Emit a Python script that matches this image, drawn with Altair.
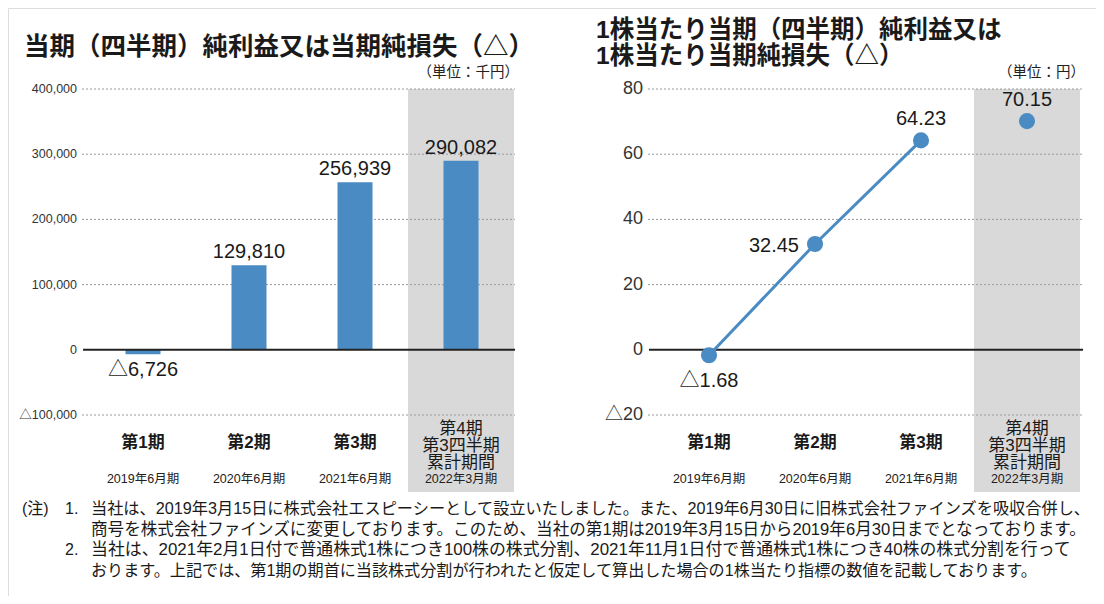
import altair as alt
import pandas as pd

# ---------------- data ----------------
periods = ["第1期", "第2期", "第3期", "第4期"]
period_labels = ["第1期", "第2期", "第3期", "第4期\n第3四半期\n累計期間"]
fiscal_years = ["2019年6月期", "2020年6月期", "2021年6月期", "2022年3月期"]
highlight_period = ["第4期"]

net_income = [-6726, 129810, 256939, 290082]
net_income_text = ["△6,726", "129,810", "256,939", "290,082"]

eps = [-1.68, 32.45, 64.23, 70.15]
eps_text = ["△1.68", "32.45", "64.23", "70.15"]

left_ticks = [400000, 300000, 200000, 100000, 0, -100000]
left_tick_text = ["400,000", "300,000", "200,000", "100,000", "0", "△100,000"]
right_ticks = [80, 60, 40, 20, 0, -20]
right_tick_text = ["80", "60", "40", "20", "0", "△20"]

title_left = "当期（四半期）純利益又は当期純損失（△）"
title_right = "1株当たり当期（四半期）純利益又は\n1株当たり当期純損失（△）"
unit_left = "（単位：千円）"
unit_right = "（単位：円）"

note_head = "(注)"
note_nums = ["1.", "2."]
note_lines = [
    "当社は、2019年3月15日に株式会社エスピーシーとして設立いたしました。また、2019年6月30日に旧株式会社ファインズを吸収合併し、",
    "商号を株式会社ファインズに変更しております。このため、当社の第1期は2019年3月15日から2019年6月30日までとなっております。",
    "当社は、2021年2月1日付で普通株式1株につき100株の株式分割、2021年11月1日付で普通株式1株につき40株の株式分割を行って",
    "おります。上記では、第1期の期首に当該株式分割が行われたと仮定して算出した場合の1株当たり指標の数値を記載しております。",
]

# ---------------- style ----------------
OX, OY = 8, 8
def px(x):
    return x - OX
def py(y):
    return y - OY

FONT = "Liberation Sans, Noto Sans CJK JP"
BLUE = "#4a8bc3"
GRAY = "#d9d9d9"
GRID = "#9a9a9a"
INK = "#1a1a1a"

df_l = pd.DataFrame({"period": periods, "label": period_labels, "fy": fiscal_years,
                     "value": net_income, "text": net_income_text})
df_r = pd.DataFrame({"period": periods, "label": period_labels, "fy": fiscal_years,
                     "value": eps, "text": eps_text})
df_lt = pd.DataFrame({"v": left_ticks, "t": left_tick_text})
df_rt = pd.DataFrame({"v": right_ticks, "t": right_tick_text})


def panel(df, dft, x0, x1, band0, band1, ydomain, tick_size, tick_right, kind):
    xs = alt.Scale(domain=periods, range=[px(band0), px(band1)], paddingInner=0, paddingOuter=0)
    ys = alt.Scale(domain=ydomain, range=[py(415), py(89)], nice=False, zero=False)
    X = alt.X("period:N", scale=xs, axis=None)
    Y = alt.Y("value:Q", scale=ys, axis=None)
    YT = alt.Y("v:Q", scale=ys, axis=None)
    is4 = alt.FieldOneOfPredicate(field="period", oneOf=highlight_period)
    not4 = alt.LogicalNotPredicate(**{"not": is4})

    base = alt.Chart(df)
    band = base.transform_filter(is4).mark_rect(color=GRAY).encode(
        x=X, y=alt.value(py(89)), y2=alt.value(py(492)))
    ticks = alt.Chart(dft)
    grid = ticks.transform_filter(alt.datum.v != 0).mark_rule(
        color=GRID, strokeDash=[2, 2], strokeWidth=1).encode(
        y=YT, x=alt.value(px(x0)), x2=alt.value(px(x1)))
    zero = ticks.transform_filter(alt.datum.v == 0).mark_rule(
        color="#222222", strokeWidth=2).encode(
        y=YT, x=alt.value(px(x0 + 1)), x2=alt.value(px(x1)))
    tlab = ticks.mark_text(align="right", baseline="middle", font=FONT,
                           fontSize=tick_size, color="#333333").encode(
        y=YT, x=alt.value(px(tick_right)), text="t:N")
    cat = base.transform_filter(not4).mark_text(
        font=FONT, fontSize=17, fontWeight="bold", baseline="middle", color=INK).encode(
        x=X, y=alt.value(py(443)), text="label:N")
    cat4 = base.transform_filter(is4).mark_text(
        font=FONT, fontSize=17, baseline="middle", lineBreak="\n", lineHeight=17, color=INK).encode(
        x=X, y=alt.value(py(429)), text="label:N")
    fy = base.mark_text(font=FONT, fontSize=12.5, baseline="middle", color="#222222").encode(
        x=X, y=alt.value(py(479)), text="fy:N")

    layers = [band, grid]
    if kind == "bar":
        bars = base.mark_bar(size=35, color=BLUE).encode(x=X, y=Y, y2=alt.datum(0))
        pos = base.transform_filter(alt.datum.value > 0).mark_text(
            font=FONT, fontSize=20, baseline="alphabetic", dy=-7, color=INK).encode(
            x=X, y=Y, text="text:N")
        neg = base.transform_filter(alt.datum.value < 0).mark_text(
            font=FONT, fontSize=20, baseline="alphabetic", dy=22, color=INK).encode(
            x=X, y=Y, text="text:N")
        layers += [bars, zero, pos, neg]
    else:
        line = base.transform_filter(not4).mark_line(color=BLUE, strokeWidth=3).encode(x=X, y=Y)
        pts = base.mark_circle(size=260, color=BLUE, opacity=1).encode(x=X, y=Y)
        below = base.transform_filter(alt.datum.value < 0).mark_text(
            font=FONT, fontSize=20, baseline="alphabetic", dy=32, color=INK).encode(
            x=X, y=Y, text="text:N")
        left = base.transform_filter(alt.FieldOneOfPredicate(field="period", oneOf=[periods[1]])).mark_text(
            font=FONT, fontSize=20, baseline="alphabetic", align="right", dx=-16, dy=8, color=INK).encode(
            x=X, y=Y, text="text:N")
        above = base.transform_filter(alt.FieldOneOfPredicate(field="period", oneOf=periods[2:])).mark_text(
            font=FONT, fontSize=20, baseline="alphabetic", dy=-15, color=INK).encode(
            x=X, y=Y, text="text:N")
        layers += [zero, line, pts, below, left, above]
    layers += [tlab, cat, cat4, fy]
    return alt.layer(*layers)


left_panel = panel(df_l, df_lt, 82, 515, 90, 514, [-100000, 400000], 12.5, 77, "bar")
right_panel = panel(df_r, df_rt, 648, 1083, 656, 1080, [-20, 80], 18, 643, "line")


def txt(s, x, y, color=INK, **kw):
    return alt.Chart(alt.Data(values=[{"t": s}])).mark_text(font=FONT, color=color, **kw).encode(
        x=alt.value(px(x)), y=alt.value(py(y)), text="t:N")


texts = [
    txt(title_left, 24, 47, fontSize=25.5, fontWeight="bold", align="left", baseline="middle"),
    txt(title_right, 596, 31, fontSize=24.5, fontWeight="bold", align="left", baseline="middle",
        lineBreak="\n", lineHeight=26),
    txt(unit_left, 519, 73, color="#222222", fontSize=14.5, align="right", baseline="middle"),
    txt(unit_right, 1085, 73, color="#222222", fontSize=14.5, align="right", baseline="middle"),
    txt(note_head, 22, 509, fontSize=16, align="left", baseline="middle"),
    txt(note_nums[0], 65, 509, fontSize=16, align="left", baseline="middle"),
    txt(note_nums[1], 65, 550, fontSize=16, align="left", baseline="middle"),
]
for s, y, fs in zip(note_lines, [509, 530, 550, 571], [16.2, 16.6, 16.9, 16.1]):
    texts.append(txt(s, 91, y, fontSize=fs, align="left", baseline="middle"))

chart = alt.layer(left_panel, right_panel, *texts).resolve_scale(
    x="independent", y="independent"
).properties(
    width=1088, height=588, padding=0,
    autosize=alt.AutoSizeParams(type="none"),
).configure_view(stroke=None).configure(background="white")

chart.save("out.html", embed_options={"renderer": "svg", "actions": False})
